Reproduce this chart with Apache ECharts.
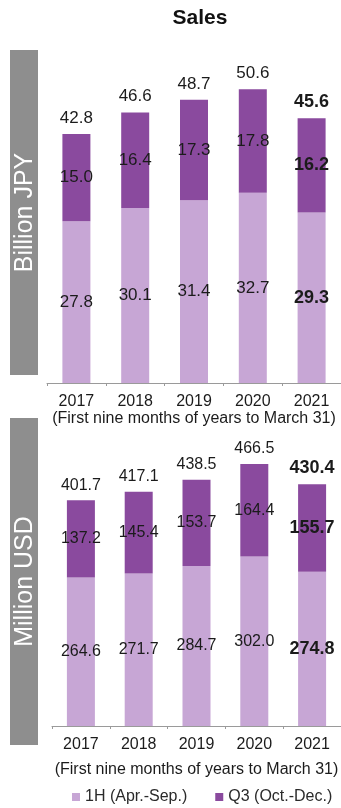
<!DOCTYPE html>
<html>
<head>
<meta charset="utf-8">
<style>
  html, body { margin: 0; padding: 0; background: #ffffff; }
  #chart { width: 341px; height: 808px; }
</style>
<script src="https://cdn.jsdelivr.net/npm/echarts@6/dist/echarts.min.js"></script>
</head>
<body>
<div id="chart"></div>
<script>
// Fiscal periods (first nine months of years to March 31)
const years = ['2017', '2018', '2019', '2020', '2021'];

// Sales in billion JPY
const jpyFirstHalf = [27.8, 30.1, 31.4, 32.7, 29.3];
const jpyThirdQuarter = [15.0, 16.4, 17.3, 17.8, 16.2];
const jpyTotal = [42.8, 46.6, 48.7, 50.6, 45.6];

// Sales in million USD
const usdFirstHalf = [264.6, 271.7, 284.7, 302.0, 274.8];
const usdThirdQuarter = [137.2, 145.4, 153.7, 164.4, 155.7];
const usdTotal = [401.7, 417.1, 438.5, 466.5, 430.4];

const FONT = '"Liberation Sans", Arial, Helvetica, sans-serif';
const TEXT = '#1b1b1b';
const LIGHT = '#c7a6d5';
const DARK = '#8a4a9e';
const LATEST = years.length - 1;

const oneDecimal = p => Number(p.value).toFixed(1);

// Latest period is emphasised in bold
function items(values, normalSize, boldSize) {
  return values.map((v, i) => ({
    value: v,
    label: i === LATEST
      ? { fontWeight: 'bold', fontSize: boldSize }
      : { fontWeight: 'normal', fontSize: normalSize }
  }));
}

function stackSeries(name, values, axisIndex, stack, color, sizes) {
  return {
    name: name,
    type: 'bar',
    stack: stack,
    xAxisIndex: axisIndex,
    yAxisIndex: axisIndex,
    barWidth: 28,
    itemStyle: { color: color },
    label: {
      show: true,
      position: 'inside',
      formatter: oneDecimal,
      color: TEXT,
      fontFamily: FONT,
      fontSize: sizes[0]
    },
    data: items(values, sizes[0], sizes[1])
  };
}

// Invisible bar carrying the period total as a label above the stack
function totalSeries(values, axisIndex, sizes) {
  return {
    name: 'Total',
    type: 'bar',
    xAxisIndex: axisIndex,
    yAxisIndex: axisIndex,
    barWidth: 28,
    barGap: '-100%',
    silent: true,
    z: 1,
    itemStyle: { color: 'rgba(0,0,0,0)' },
    label: {
      show: true,
      position: 'top',
      distance: 7,
      formatter: oneDecimal,
      color: TEXT,
      fontFamily: FONT,
      fontSize: sizes[0]
    },
    data: items(values, sizes[0], sizes[1])
  };
}

function categoryAxis(gridIndex) {
  return {
    type: 'category',
    gridIndex: gridIndex,
    data: years,
    name: '(First nine months of years to March 31)',
    nameLocation: 'middle',
    nameGap: gridIndex === 0 ? 28 : 36,
    nameTextStyle: { color: TEXT, fontFamily: FONT, fontSize: 16 },
    axisLine: { lineStyle: { color: '#9a9a9a', width: 1 } },
    axisTick: { show: true, length: 3, lineStyle: { color: '#9a9a9a' } },
    axisLabel: { color: TEXT, fontFamily: FONT, fontSize: 16, margin: 11 }
  };
}

function valueAxis(gridIndex, max) {
  return {
    type: 'value',
    gridIndex: gridIndex,
    min: 0,
    max: max,
    show: false,
    splitLine: { show: false }
  };
}

function unitBox(y, h, text) {
  return [
    { type: 'rect', left: 10, top: y, shape: { width: 28, height: h },
      style: { fill: '#8e8e8e' }, silent: true },
    { type: 'text', x: 25, y: y + h / 2, rotation: Math.PI / 2,
      style: { text: text, fill: '#ffffff', font: '25px ' + FONT,
               align: 'center', verticalAlign: 'middle' }, silent: true }
  ];
}

const chart = echarts.init(document.getElementById('chart'), null, { renderer: 'canvas' });

chart.setOption({
  animation: false,
  backgroundColor: '#ffffff',
  title: {
    text: 'Sales',
    left: 195,
    top: 3,
    textAlign: 'center',
    textStyle: { color: '#111111', fontFamily: FONT, fontSize: 21, fontWeight: 'bold' }
  },
  legend: {
    data: ['1H (Apr.-Sep.)', 'Q3 (Oct.-Dec.)'],
    left: 67,
    top: 784,
    icon: 'rect',
    itemWidth: 8,
    itemHeight: 8,
    itemGap: 28,
    textStyle: { color: '#2a2a2a', fontFamily: FONT, fontSize: 16 }
  },
  grid: [
    { left: 47, right: -1, top: 34, bottom: 425 },
    { left: 52, right: -2, top: 389, bottom: 82 }
  ],
  xAxis: [categoryAxis(0), categoryAxis(1)],
  yAxis: [valueAxis(0, 60), valueAxis(1, 600)],
  graphic: unitBox(50, 325, 'Billion JPY').concat(unitBox(418, 327, 'Million USD')),
  series: [
    stackSeries('1H (Apr.-Sep.)', jpyFirstHalf, 0, 'jpy', LIGHT, [17, 18]),
    stackSeries('Q3 (Oct.-Dec.)', jpyThirdQuarter, 0, 'jpy', DARK, [17, 18]),
    totalSeries(jpyTotal, 0, [17, 18]),
    stackSeries('1H (Apr.-Sep.)', usdFirstHalf, 1, 'usd', LIGHT, [16, 18]),
    stackSeries('Q3 (Oct.-Dec.)', usdThirdQuarter, 1, 'usd', DARK, [16, 18]),
    totalSeries(usdTotal, 1, [16, 18])
  ]
});
</script>
</body>
</html>
